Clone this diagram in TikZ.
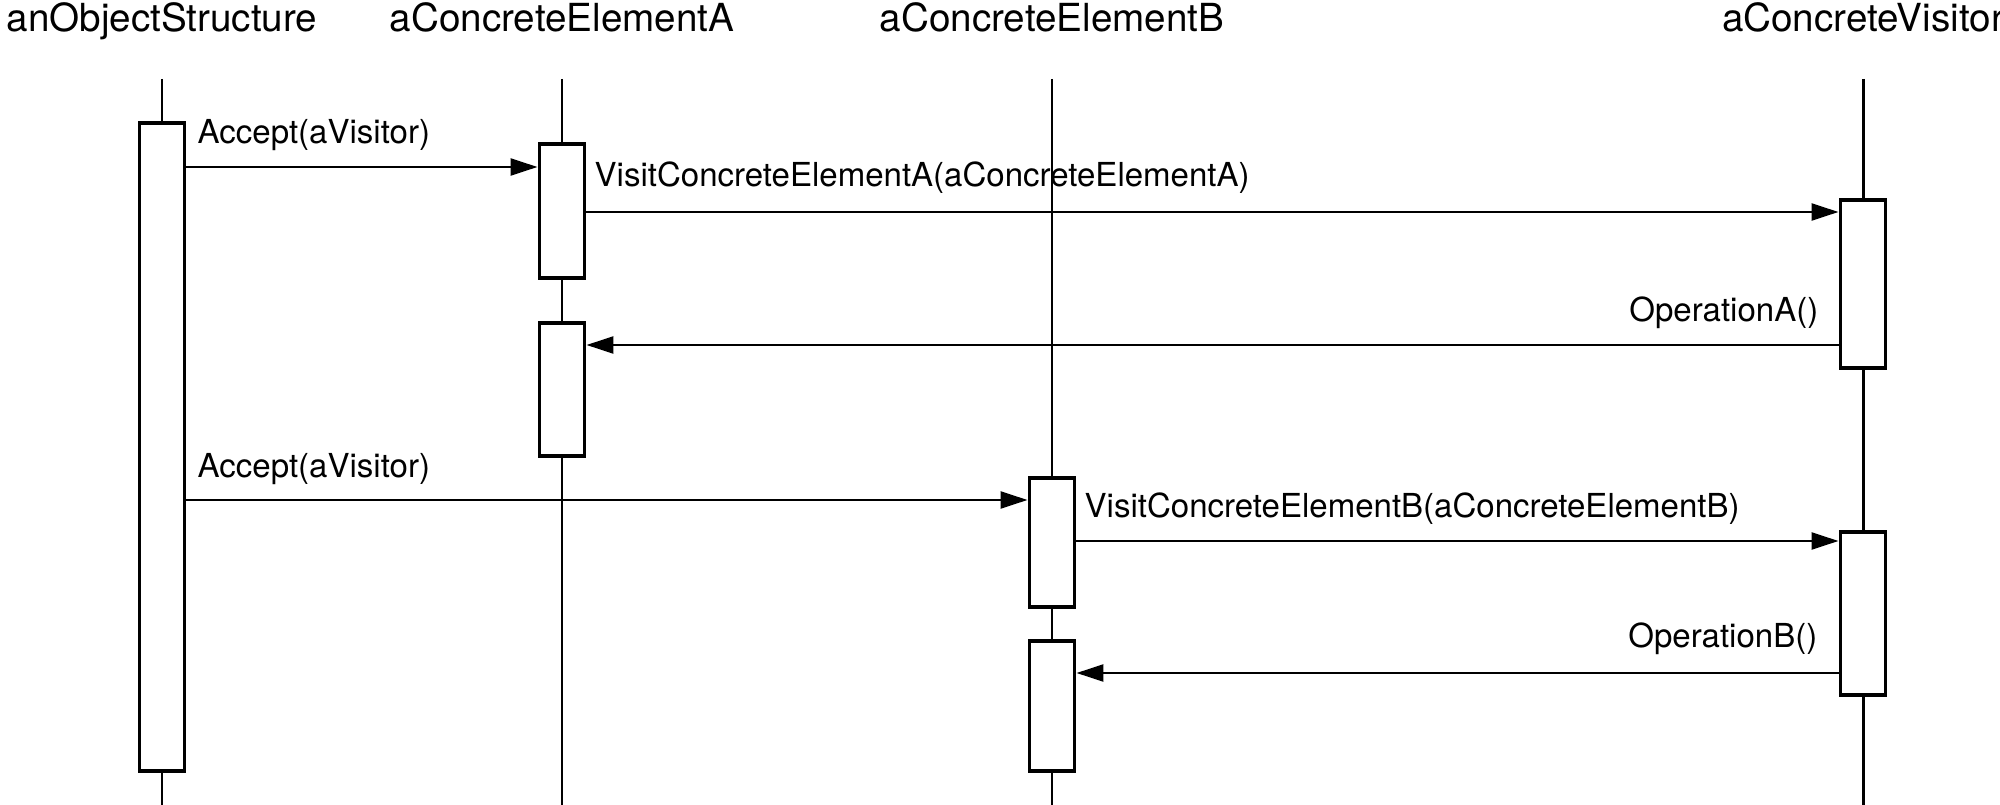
\documentclass[tikz,border=0pt]{standalone}
\usepackage{fontspec}
\setmainfont{TeX Gyre Heros}
\usetikzlibrary{arrows.meta}

\begin{document}
\begin{tikzpicture}[x=0.1mm, y=-0.1mm,
		head/.style={font=\fontsize{11}{13}\selectfont, anchor=base, inner sep=0pt},
		lbl/.style={font=\fontsize{9.4}{11}\selectfont, inner sep=0pt},
		life/.style={line width=0.85pt},
		act/.style={draw, fill=white, line width=1.1pt, minimum width=4.5mm, inner sep=0pt},
		msg/.style={line width=0.85pt, -{Triangle[length=7.7pt, width=4.8pt]}}]
		%%%%% START %%%%%
		
		\useasboundingbox (0, 0) rectangle (2000, 805);
		
		\node[head] (os) at (162, 32) {anObjectStructure};
		\node[head] (ea) at (562, 32) {aConcreteElementA};
		\node[head] (eb) at (1052, 32) {aConcreteElementB};
		\node[head] (cv) at (1863, 32) {aConcreteVisitor};
		
		\coordinate (top) at (0, 79);
		\coordinate (bot) at (0, 805);
		\draw[life] (os |- top) -- (os |- bot);
		\draw[life] (ea |- top) -- (ea |- bot);
		\draw[life] (eb |- top) -- (eb |- bot);
		\draw[life] (cv |- top) -- (cv |- bot);
		
		\node[act, minimum height=64.8mm] (os1) at (162, 447) {};
		\node[act, minimum height=13.4mm] (ea1) at (562, 211) {};
		\node[act, minimum height=13.3mm] (ea2) at (562, 389.5) {};
		\node[act, minimum height=12.9mm] (eb1) at (1052, 542.5) {};
		\node[act, minimum height=13.0mm] (eb2) at (1052, 706) {};
		\node[act, minimum height=16.8mm] (cv1) at (1863, 284) {};
		\node[act, minimum height=16.3mm] (cv2) at (1863, 613.5) {};
		
		\coordinate (m1) at (0, 167);
		\coordinate (m2) at (0, 212);
		\coordinate (m3) at (0, 345);
		\coordinate (m4) at (0, 500);
		\coordinate (m5) at (0, 541);
		\coordinate (m6) at (0, 673);
		
		\draw[msg] (os1.east |- m1) -- (ea1.west |- m1);
		\draw[msg] (ea1.east |- m2) -- (cv1.west |- m2);
		\draw[msg] (cv1.west |- m3) -- (ea2.east |- m3);
		\draw[msg] (os1.east |- m4) -- (eb1.west |- m4);
		\draw[msg] (eb1.east |- m5) -- (cv2.west |- m5);
		\draw[msg] (cv2.west |- m6) -- (eb2.east |- m6);
		
		\node[lbl, anchor=base west] (l1) at (197, 144) {Accept(aVisitor)};
		\node[lbl, anchor=base west] (l2) at (594, 187) {VisitConcreteElementA(aConcreteElementA)};
		\node[lbl, anchor=base east] (l3) at (1819, 322) {OperationA()};
		\node[lbl, anchor=base west] (l4) at (197, 478) {Accept(aVisitor)};
		\node[lbl, anchor=base west] (l5) at (1084, 517) {VisitConcreteElementB(aConcreteElementB)};
		\node[lbl, anchor=base east] (l6) at (1818, 648) {OperationB()};
		
		%%%%% END %%%%%
	\end{tikzpicture}
\end{document}
